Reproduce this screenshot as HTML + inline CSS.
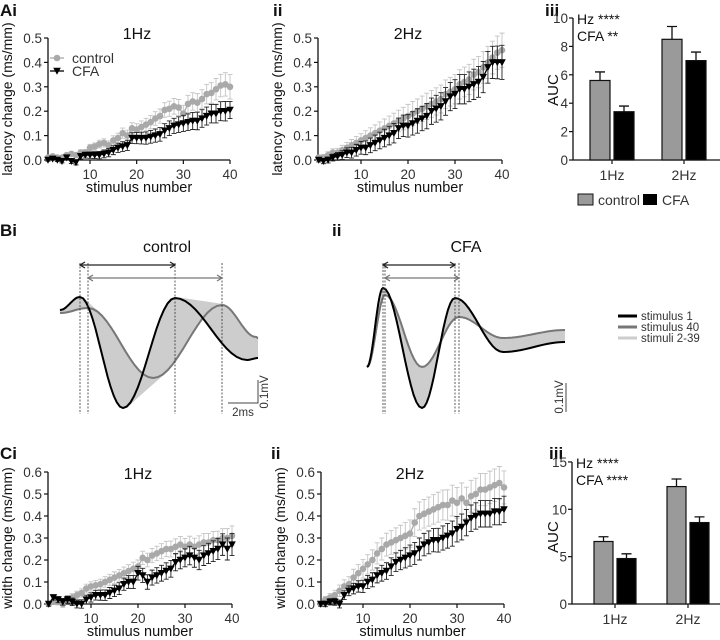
<!DOCTYPE html>
<html><head><meta charset="utf-8"><style>
html,body{margin:0;padding:0;background:#fff;}
svg{display:block;font-family:"Liberation Sans",Arial,sans-serif;}
</style></head><body>
<svg id="fig" width="720" height="640" viewBox="0 0 720 640" xmlns="http://www.w3.org/2000/svg"></svg>
<script>
// ---------- DATA ----------
const stimulusNumbers = Array.from({length:40},(_,i)=>i+1);
const latency1HzControl = [0.01,0.015,0.01,0.01,0.02,0.025,0.02,0.03,0.03,0.05,0.055,0.065,0.07,0.06,0.08,0.09,0.11,0.10,0.13,0.125,0.135,0.145,0.155,0.17,0.18,0.205,0.21,0.22,0.215,0.19,0.23,0.24,0.235,0.25,0.27,0.275,0.29,0.305,0.31,0.30];
const latency1HzControlErr = [0.005,0.005,0.006,0.007,0.008,0.009,0.01,0.012,0.013,0.014,0.015,0.016,0.017,0.018,0.019,0.02,0.021,0.022,0.023,0.024,0.025,0.026,0.027,0.028,0.029,0.03,0.031,0.032,0.033,0.034,0.035,0.036,0.037,0.038,0.04,0.042,0.044,0.046,0.048,0.05];
const latency1HzCFA = [0,0.005,0,-0.005,0.01,-0.005,-0.01,0.015,0.02,0.02,0.02,0.02,0.025,0.03,0.04,0.05,0.055,0.06,0.09,0.09,0.09,0.09,0.095,0.10,0.105,0.12,0.13,0.14,0.145,0.15,0.155,0.16,0.16,0.17,0.18,0.19,0.19,0.20,0.20,0.205];
const latency1HzCFAErr = [0.005,0.005,0.006,0.007,0.008,0.009,0.01,0.011,0.012,0.013,0.014,0.015,0.016,0.017,0.018,0.019,0.02,0.021,0.022,0.023,0.024,0.025,0.026,0.027,0.028,0.029,0.03,0.031,0.032,0.033,0.034,0.035,0.036,0.036,0.037,0.038,0.038,0.039,0.04,0.035];
const latency2HzControl = [0.01,0.01,0.02,0.03,0.03,0.04,0.05,0.06,0.07,0.08,0.09,0.10,0.11,0.12,0.13,0.14,0.15,0.16,0.17,0.18,0.19,0.20,0.21,0.22,0.23,0.24,0.25,0.27,0.28,0.29,0.31,0.32,0.33,0.35,0.36,0.38,0.40,0.42,0.44,0.45];
const latency2HzControlErr = [0.01,0.012,0.014,0.016,0.018,0.02,0.022,0.024,0.026,0.028,0.03,0.032,0.034,0.036,0.038,0.04,0.042,0.044,0.046,0.048,0.05,0.05,0.052,0.054,0.055,0.056,0.057,0.058,0.059,0.06,0.06,0.061,0.062,0.063,0.064,0.065,0.066,0.067,0.068,0.07];
const latency2HzCFA = [0,-0.005,0,0.01,0.015,0.02,0.03,0.03,0.04,0.05,0.05,0.06,0.07,0.08,0.09,0.10,0.11,0.13,0.14,0.14,0.15,0.16,0.17,0.18,0.20,0.21,0.22,0.24,0.26,0.27,0.29,0.29,0.30,0.31,0.32,0.34,0.38,0.40,0.40,0.40];
const latency2HzCFAErr = [0.008,0.01,0.012,0.014,0.016,0.018,0.02,0.022,0.024,0.026,0.028,0.03,0.032,0.034,0.036,0.038,0.04,0.042,0.044,0.046,0.048,0.05,0.05,0.052,0.054,0.055,0.056,0.057,0.058,0.059,0.06,0.06,0.061,0.062,0.063,0.064,0.065,0.066,0.067,0.07];
const width1HzControl = [0,0.01,0.01,0.0,0.02,0.03,0.04,0.05,0.07,0.08,0.085,0.09,0.10,0.11,0.12,0.13,0.14,0.15,0.16,0.17,0.21,0.20,0.22,0.23,0.24,0.25,0.25,0.26,0.27,0.26,0.27,0.26,0.27,0.28,0.28,0.29,0.29,0.30,0.30,0.31];
const width1HzControlErr = [0.01,0.012,0.014,0.015,0.016,0.017,0.018,0.019,0.02,0.021,0.022,0.023,0.024,0.025,0.026,0.027,0.028,0.029,0.03,0.03,0.03,0.031,0.032,0.033,0.034,0.035,0.036,0.036,0.037,0.038,0.038,0.039,0.04,0.04,0.04,0.04,0.041,0.042,0.043,0.045];
const width1HzCFA = [0.0,0.03,0.02,0.01,0.02,0.01,0.0,0.0,0.02,0.03,0.04,0.04,0.04,0.05,0.06,0.07,0.09,0.10,0.10,0.14,0.13,0.10,0.12,0.13,0.14,0.15,0.16,0.19,0.20,0.21,0.22,0.21,0.20,0.22,0.23,0.24,0.25,0.27,0.25,0.27];
const width1HzCFAErr = [0.01,0.012,0.014,0.015,0.016,0.017,0.018,0.019,0.02,0.021,0.022,0.023,0.024,0.025,0.026,0.027,0.028,0.029,0.03,0.031,0.032,0.033,0.034,0.035,0.036,0.037,0.038,0.039,0.04,0.041,0.042,0.043,0.044,0.045,0.046,0.047,0.048,0.049,0.05,0.05];
const width2HzControl = [0.0,0.02,0.03,0.04,0.06,0.08,0.09,0.12,0.14,0.16,0.18,0.20,0.23,0.25,0.27,0.28,0.29,0.30,0.31,0.32,0.37,0.40,0.41,0.42,0.43,0.44,0.45,0.45,0.47,0.46,0.48,0.46,0.49,0.50,0.52,0.52,0.53,0.54,0.55,0.53];
const width2HzControlErr = [0.01,0.014,0.018,0.022,0.026,0.03,0.034,0.038,0.04,0.042,0.044,0.046,0.048,0.05,0.052,0.054,0.056,0.058,0.06,0.062,0.063,0.064,0.065,0.066,0.067,0.068,0.068,0.069,0.07,0.07,0.07,0.071,0.072,0.072,0.073,0.073,0.074,0.074,0.075,0.075];
const width2HzCFA = [0.0,0.0,0.01,0.01,0.0,0.04,0.06,0.07,0.08,0.08,0.10,0.11,0.13,0.14,0.15,0.17,0.19,0.20,0.21,0.22,0.23,0.25,0.27,0.28,0.29,0.29,0.30,0.31,0.32,0.34,0.35,0.37,0.39,0.40,0.41,0.41,0.41,0.42,0.42,0.43];
const width2HzCFAErr = [0.01,0.012,0.014,0.016,0.018,0.02,0.022,0.024,0.026,0.028,0.03,0.032,0.034,0.036,0.038,0.04,0.042,0.044,0.046,0.048,0.05,0.05,0.051,0.052,0.053,0.054,0.055,0.056,0.057,0.058,0.059,0.06,0.06,0.06,0.06,0.06,0.06,0.06,0.06,0.06];

const aucCategories = ["1Hz","2Hz"];
const latencyAucControl = [5.6,8.5];
const latencyAucControlErr = [0.6,0.9];
const latencyAucCFA = [3.4,7.0];
const latencyAucCFAErr = [0.4,0.6];
const widthAucControl = [6.6,12.4];
const widthAucControlErr = [0.5,0.8];
const widthAucCFA = [4.8,8.6];
const widthAucCFAErr = [0.5,0.6];

const latencyTicks = [0,0.1,0.2,0.3,0.4,0.5];
const latencyTickLabels = ["0.0","0.1","0.2","0.3","0.4","0.5"];
const widthTicks = [0,0.1,0.2,0.3,0.4,0.5,0.6];
const widthTickLabels = ["0.0","0.1","0.2","0.3","0.4","0.5","0.6"];
const stimTicks = [10,20,30,40];
const latencyAucTicks = [0,2,4,6,8,10];
const widthAucTicks = [0,5,10,15];

// trace keypoints (x px, y px) — stimulus 1 and stimulus 40
const controlStim1X = [60,80,123,175,247,258];
const controlStim1Y = [310,297,408,298,360,358];
const controlStim40X = [60,88,153,222,256,258];
const controlStim40Y = [313,308,378,305,337,338];
const cfaStim1X = [367,383,422,455,503,565];
const cfaStim1Y = [367,288,408,298,352,342];
const cfaStim40X = [367,385,422,459,503,565];
const cfaStim40Y = [367,295,367,317,338,330];

// ---------- HELPERS ----------
const NS="http://www.w3.org/2000/svg";
const svg=document.getElementById('fig');
function mk(tag,attrs,parent){const e=document.createElementNS(NS,tag);for(const k in attrs)e.setAttribute(k,attrs[k]);(parent||svg).appendChild(e);return e;}
function txt(x,y,s,size,anchor,parent,extra){const t=mk('text',Object.assign({x:x,y:y,'font-size':size,'text-anchor':anchor||'start',fill:'#111'},extra||{}),parent);t.textContent=s;return t;}

function label(x,y,s,name){
  const t=txt(x,y,s,17,'start',svg,{'font-weight':'bold'});
  
  
}

function lineChart(o){
  const g=mk('g',{});
  
  
  const xs=n=>o.x10+(n-10)*o.xu;
  const ys=v=>o.y0-v*o.yu;
  const ax=mk('path',{d:`M${o.ax} ${ys(o.yTicks[o.yTicks.length-1])}V${o.y0}H${xs(40)}`,stroke:'#111','stroke-width':1.3,fill:'none'},g);
  
  
  o.yTicks.forEach((v,i)=>{
    mk('line',{x1:o.ax-4,x2:o.ax,y1:ys(v),y2:ys(v),stroke:'#111','stroke-width':1.2},g);
    const t=txt(o.ax-6,ys(v)+5,o.yLabels[i],13.5,'end',g,{fill:'#333'});
    
    
  });
  stimTicks.forEach(n=>{
    mk('line',{x1:xs(n),x2:xs(n),y1:o.y0,y2:o.y0+4,stroke:'#111','stroke-width':1.2},g);
    const t=txt(xs(n),o.y0+19,String(n),13.5,'middle',g,{fill:'#333'});
    
    
  });
  const xt=txt((o.ax+xs(40))/2,o.y0+32,'stimulus number',14.5,'middle',g);
  
  
  const yt=txt(0,0,o.ylabel,14,'middle',g,{transform:`translate(${o.ylx},${o.y0-(o.yTicks[o.yTicks.length-1]*o.yu)/2}) rotate(-90)`});
  
  
  const tt=txt(o.titleX,o.titleY,o.title,16,'middle',g);
  
  
  [[o.ctl,o.ctlErr,'#a9a9a9','#c4c4c4','circle','control-series'],[o.cfa,o.cfaErr,'#000','#222','tri','cfa-series']].forEach(s=>{
    const sg=mk('g',{},g);
    
    
    s[0].forEach((v,i)=>{
      const n=stimulusNumbers[i],x=xs(n),y1=ys(v+s[1][i]),y2=ys(v-s[1][i]);
      mk('path',{d:`M${x} ${y1}V${y2}M${x-2.5} ${y1}H${x+2.5}M${x-2.5} ${y2}H${x+2.5}`,stroke:s[3],'stroke-width':0.9,fill:'none'},sg);
    });
    const pts=s[0].map((v,i)=>xs(stimulusNumbers[i])+','+ys(v)).join(' ');
    const pl=mk('polyline',{points:pts,stroke:s[2],'stroke-width':1.3,fill:'none'},sg);
    
    
    s[0].forEach((v,i)=>{
      const x=xs(stimulusNumbers[i]),y=ys(v);
      let m;
      if(s[4]==='circle') m=mk('circle',{cx:x,cy:y,r:3.3,fill:s[2]},sg);
      else m=mk('path',{d:`M${x-3.8} ${y-3.2}H${x+3.8}L${x} ${y+3.8}Z`,fill:s[2]},sg);
      
      
    });
  });
  return g;
}

function barChart(o){
  const g=mk('g',{});
  
  
  const ys=v=>o.y0-v*o.yu;
  const top=o.ticks[o.ticks.length-1];
  const ax=mk('path',{d:`M${o.ax} ${ys(top)}V${o.y0}H720`,stroke:'#111','stroke-width':1.3,fill:'none'},g);
  
  
  o.ticks.forEach(v=>{
    mk('line',{x1:o.ax-4,x2:o.ax,y1:ys(v),y2:ys(v),stroke:'#111','stroke-width':1.2},g);
    const t=txt(o.ax-5,ys(v)+5,String(v),13.5,'end',g,{fill:'#333'});
    
    
  });
  aucCategories.forEach((c,i)=>{
    const cx=o.groupX[i];
    mk('line',{x1:cx,x2:cx,y1:o.y0,y2:o.y0+4,stroke:'#111','stroke-width':1.2},g);
    const t=txt(cx,o.y0+20,c,14,'middle',g,{fill:'#333'});
    
    
    [[o.ctl,o.ctlErr,'#9a9a9a',-1,'bar-control-'+c],[o.cfa,o.cfaErr,'#000',1,'bar-cfa-'+c]].forEach(s=>{
      const v=s[0][i],e=s[1][i];
      const bx=cx+(s[3]<0?-o.bw-2:2);
      mk('path',{d:`M${bx+o.bw/2} ${ys(v)}V${ys(v+e)}M${bx+o.bw/2-5} ${ys(v+e)}H${bx+o.bw/2+5}`,stroke:'#111','stroke-width':1.3},g);
      const r=mk('rect',{x:bx,y:ys(v),width:o.bw,height:o.y0-ys(v),fill:s[2],stroke:'#111','stroke-width':1.2},g);
      
      
    });
  });
  const yt=txt(0,0,'AUC',15,'middle',g,{transform:`translate(${o.ylx},${o.ylY}) rotate(-90)`});
  
  
  const a1=txt(o.ax+4,ys(top)+6,'Hz ****',14,'start',g);
  
  
  const a2=txt(o.ax+4,ys(top)+23,o.cfaStat,14,'start',g);
  
  
}

function tracePath(X,Y){
  let d=`M${X[0]} ${Y[0]}`;
  for(let i=0;i<X.length-1;i++){
    for(let k=1;k<=14;k++){
      const t=k/14,c=(1-Math.cos(Math.PI*t))/2;
      d+=`L${(X[i]+(X[i+1]-X[i])*t).toFixed(1)} ${(Y[i]+(Y[i+1]-Y[i])*c).toFixed(1)}`;
    }
  }
  return d;
}
function traces(o){
  const g=mk('g',{});
  
  
  for(let k=2;k<=39;k++){
    const t=(k-1)/39;
    const X=o.x1.map((v,i)=>v+(o.x40[i]-v)*t),Y=o.y1.map((v,i)=>v+(o.y40[i]-v)*t);
    const p=mk('path',{d:tracePath(X,Y),stroke:'#cdcdcd','stroke-width':2,fill:'none'},g);
    
    
  }
  const p40=mk('path',{d:tracePath(o.x40,o.y40),stroke:'#777','stroke-width':2,fill:'none'},g);
  
  
  const p1=mk('path',{d:tracePath(o.x1,o.y1),stroke:'#000','stroke-width':2,fill:'none'},g);
  
  
  [o.x1[1],o.x40[1],o.x1[3],o.x40[3]].forEach(x=>{
    const l=mk('line',{x1:x,x2:x,y1:263,y2:414,stroke:'#333','stroke-width':0.8,'stroke-dasharray':'2,1.5'},g);
    
    
  });
  [[o.x1[1],o.x1[3],265,'#222','arrow-stimulus-1'],[o.x40[1],o.x40[3],278,'#777','arrow-stimulus-40']].forEach(a=>{
    const ar=mk('path',{d:`M${a[0]} ${a[2]}H${a[1]}M${a[0]+5} ${a[2]-3}L${a[0]} ${a[2]}L${a[0]+5} ${a[2]+3}M${a[1]-5} ${a[2]-3}L${a[1]} ${a[2]}L${a[1]-5} ${a[2]+3}`,stroke:a[3],'stroke-width':1.3,fill:'none'},g);
    
    
  });
  const t=txt(o.titleX,252,o.title,16,'middle',g);
  
  
}

// ---------- PANEL LABELS ----------
label(0,16,'Ai','panel-label-ai');
label(273,16,'ii','panel-label-aii');
label(545,16,'iii','panel-label-aiii');
label(0,236,'Bi','panel-label-bi');
label(332,236,'ii','panel-label-bii');
label(0,459,'Ci','panel-label-ci');
label(271,459,'ii','panel-label-cii');
label(549,459,'iii','panel-label-ciii');

// ---------- A ROW ----------
lineChart({name:'latency-1hz-chart',ax:48,x10:90,xu:4.667,y0:160,yu:244,yTicks:latencyTicks,yLabels:latencyTickLabels,ctl:latency1HzControl,ctlErr:latency1HzControlErr,cfa:latency1HzCFA,cfaErr:latency1HzCFAErr,ylabel:'latency change (ms/mm)',ylx:12,title:'1Hz',titleX:137,titleY:39});
lineChart({name:'latency-2hz-chart',ax:318,x10:361,xu:4.7,y0:160,yu:244,yTicks:latencyTicks,yLabels:latencyTickLabels,ctl:latency2HzControl,ctlErr:latency2HzControlErr,cfa:latency2HzCFA,cfaErr:latency2HzCFAErr,ylabel:'latency change (ms/mm)',ylx:282,title:'2Hz',titleX:408,titleY:39});
const legA=mk('g',{});


mk('line',{x1:50,x2:64,y1:58,y2:58,stroke:'#a9a9a9','stroke-width':1.3},legA);
mk('circle',{cx:57,cy:58,r:3.3,fill:'#a9a9a9'},legA);
txt(72,63,'control',14,'start',legA,{fill:'#333'});
mk('line',{x1:50,x2:64,y1:71,y2:71,stroke:'#000','stroke-width':1.3},legA);
mk('path',{d:'M53.2 67.8H60.8L57 74.8Z',fill:'#000'},legA);
txt(72,76,'CFA',14,'start',legA,{fill:'#333'});

barChart({name:'latency-auc-chart',ax:573,y0:160,yu:14.2,ticks:latencyAucTicks,groupX:[612,684],bw:20,ctl:latencyAucControl,ctlErr:latencyAucControlErr,cfa:latencyAucCFA,cfaErr:latencyAucCFAErr,ylx:558,ylY:90,cfaStat:'CFA **'});
const legB=mk('g',{});


mk('rect',{x:578,y:194,width:15,height:11,fill:'#9a9a9a',stroke:'#111','stroke-width':1},legB);
txt(598,205,'control',14,'start',legB,{fill:'#333'});
mk('rect',{x:643,y:194,width:14,height:11,fill:'#000'},legB);
txt(662,205,'CFA',14,'start',legB,{fill:'#333'});

// ---------- B ROW ----------
traces({name:'control-traces',x1:controlStim1X,y1:controlStim1Y,x40:controlStim40X,y40:controlStim40Y,title:'control',titleX:167});
traces({name:'cfa-traces',x1:cfaStim1X,y1:cfaStim1Y,x40:cfaStim40X,y40:cfaStim40Y,title:'CFA',titleX:466});
const sb=mk('g',{});


mk('path',{d:'M228 403H258V380',stroke:'#444','stroke-width':1,fill:'none'},sb);
txt(243,416,'2ms',11.5,'middle',sb,{fill:'#333'});
txt(0,0,'0.1mV',11.5,'middle',sb,{fill:'#333',transform:'translate(268,392) rotate(-90)'});
const sb2=mk('g',{});


mk('line',{x1:566,x2:566,y1:383,y2:412,stroke:'#444','stroke-width':1},sb2);
txt(0,0,'0.1mV',11.5,'middle',sb2,{fill:'#333',transform:'translate(563,397) rotate(-90)'});
const legT=mk('g',{});


[['#000','stimulus 1',316],['#777','stimulus 40',327],['#cdcdcd','stimuli 2-39',338]].forEach(e=>{
  mk('line',{x1:618,x2:637,y1:e[2],y2:e[2],stroke:e[0],'stroke-width':3},legT);
  txt(641,e[2]+4,e[1],11.5,'start',legT,{fill:'#333'});
});

// ---------- C ROW ----------
lineChart({name:'width-1hz-chart',ax:48,x10:91,xu:4.7,y0:604,yu:220,yTicks:widthTicks,yLabels:widthTickLabels,ctl:width1HzControl,ctlErr:width1HzControlErr,cfa:width1HzCFA,cfaErr:width1HzCFAErr,ylabel:'width change (ms/mm)',ylx:12,title:'1Hz',titleX:138,titleY:479});
lineChart({name:'width-2hz-chart',ax:321,x10:363,xu:4.7,y0:604,yu:220,yTicks:widthTicks,yLabels:widthTickLabels,ctl:width2HzControl,ctlErr:width2HzControlErr,cfa:width2HzCFA,cfaErr:width2HzCFAErr,ylabel:'width change (ms/mm)',ylx:285,title:'2Hz',titleX:410,titleY:479});
barChart({name:'width-auc-chart',ax:572,y0:604,yu:9.47,ticks:widthAucTicks,groupX:[615,688],bw:19,ctl:widthAucControl,ctlErr:widthAucControlErr,cfa:widthAucCFA,cfaErr:widthAucCFAErr,ylx:558,ylY:537,cfaStat:'CFA ****'});
</script>
</body></html>
